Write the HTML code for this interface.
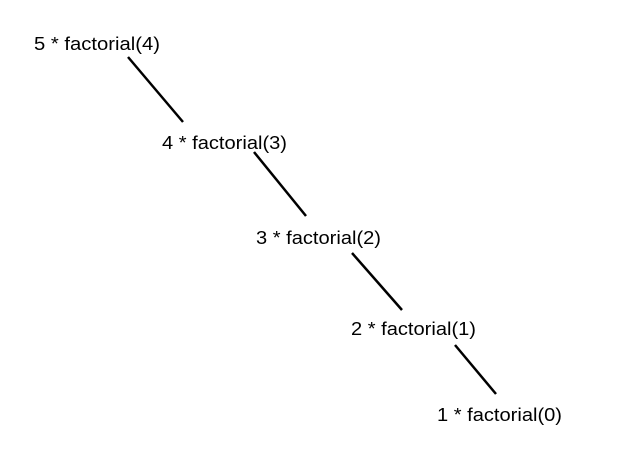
<!DOCTYPE html>
<html><head><style>html,body{margin:0;padding:0;background:#fff}</style></head>
<body>
<svg width="632" height="472" xmlns="http://www.w3.org/2000/svg" style="display:block">
<g font-family="Liberation Sans, sans-serif" font-size="18" fill="#000">
<text x="34" y="50" textLength="126" lengthAdjust="spacingAndGlyphs">5 * factorial(4)</text>
<text x="162" y="149" textLength="125" lengthAdjust="spacingAndGlyphs">4 * factorial(3)</text>
<text x="256" y="244" textLength="125" lengthAdjust="spacingAndGlyphs">3 * factorial(2)</text>
<text x="351" y="335" textLength="125" lengthAdjust="spacingAndGlyphs">2 * factorial(1)</text>
<text x="437" y="421" textLength="125" lengthAdjust="spacingAndGlyphs">1 * factorial(0)</text>
</g>
<g stroke="#000" stroke-width="2.5">
<line x1="128" y1="57" x2="183" y2="122"/>
<line x1="254" y1="152" x2="306" y2="216"/>
<line x1="352" y1="253" x2="402" y2="310"/>
<line x1="455" y1="345" x2="496" y2="394"/>
</g>
</svg>
</body></html>
